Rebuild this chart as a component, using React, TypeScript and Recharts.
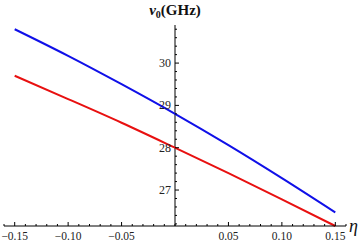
import React from "react"
import { LineChart, Line, XAxis, YAxis, ReferenceLine } from "recharts"

const eta = [-0.15, -0.1, -0.05, 0, 0.05, 0.1, 0.15]
const blueFreq = [30.8, 30.17, 29.5, 28.8, 28.06, 27.28, 26.47]
const redFreq = [29.7, 29.15, 28.59, 28.0, 27.4, 26.78, 26.15]

const xMajor = [-0.15, -0.1, -0.05, 0.05, 0.1, 0.15]
const yMajor = [27, 28, 29, 30]

// minor ticks every 0.01 on x and 0.2 on y
const xTicks = Array.from({ length: 33 }, (_, i) => Math.round((-0.16 + i * 0.01) * 100) / 100)
const yTicks = Array.from({ length: 24 }, (_, i) => Math.round((26.2 + i * 0.2) * 10) / 10)

const data = eta.map((e, i) => ({ eta: e, blue: blueFreq[i], red: redFreq[i] }))

const W = 360
const H = 245
const margin = { top: 25, right: 14, left: 3, bottom: 0 }
const yAxisW = 1
const plotW = W - margin.left - yAxisW - margin.right
const font = "'Liberation Serif', 'Times New Roman', serif"

const isOne = (list: number[], v: number) => list.some((m) => Math.abs(m - v) < 1e-6)

const XTick = (props: any) => {
  const { x, y, payload } = props
  const v = payload.value
  const major = isOne(xMajor, v)
  return (
    <g>
      <line x1={x} x2={x} y1={y} y2={y - (major ? 4 : 2)} stroke="#000" strokeWidth={1} />
      {major && (
        <text x={x} y={y + 14} textAnchor="middle" fontSize={11.5} fontFamily={font} fill="#222">
          {(v < 0 ? "\u2212" : "") + Math.abs(v).toFixed(2)}
        </text>
      )}
    </g>
  )
}

// y axis sits at eta = 0, the middle of the symmetric x domain
const YTick = (props: any) => {
  const { x, y, payload } = props
  const v = payload.value
  const major = isOne(yMajor, v)
  const x0 = x + plotW / 2
  return (
    <g>
      <line x1={x0} x2={x0 + (major ? 4 : 2)} y1={y} y2={y} stroke="#000" strokeWidth={1} />
      {major && (
        <text x={x0 - 4} y={y + 4} textAnchor="end" fontSize={12} fontFamily={font} fill="#222">
          {v}
        </text>
      )}
    </g>
  )
}

const TopLabel = (props: any) => {
  const { viewBox } = props
  return (
    <text x={viewBox.x} y={viewBox.y - 10} textAnchor="middle" fontFamily={font} fontSize={15} fontWeight="bold" fill="#111">
      <tspan fontStyle="italic">ν</tspan>
      <tspan fontSize={10} dy={3}>0</tspan>
      <tspan dy={-3}>(GHz)</tspan>
    </text>
  )
}

const EtaLabel = (props: any) => {
  const { viewBox } = props
  return (
    <text x={viewBox.x + viewBox.width + 3} y={viewBox.y + 6} fontFamily={font} fontSize={18} fontStyle="italic" fill="#111">
      η
    </text>
  )
}

export default function App() {
  return (
    <div style={{ position: "absolute", left: 0, top: 0, background: "#fff" }}>
      <LineChart width={W} height={H} data={data} margin={margin}>
        <XAxis
          dataKey="eta"
          type="number"
          domain={[-0.16, 0.16]}
          ticks={xTicks}
          interval={0}
          height={19}
          tickSize={0}
          tickMargin={0}
          tickLine={false}
          tick={<XTick />}
          axisLine={{ stroke: "#000", strokeWidth: 1 }}
          label={{ content: <EtaLabel /> }}
        />
        <YAxis
          type="number"
          domain={[26.15, 30.9]}
          ticks={yTicks}
          interval={0}
          width={yAxisW}
          tickSize={0}
          tickMargin={0}
          tickLine={false}
          axisLine={false}
          tick={<YTick />}
        />
        <ReferenceLine x={0} stroke="#000" strokeWidth={1} label={{ content: <TopLabel /> }} />
        <Line dataKey="red" type="monotone" stroke="#e81010" strokeWidth={2} dot={false} isAnimationActive={false} />
        <Line dataKey="blue" type="monotone" stroke="#1010e8" strokeWidth={2} dot={false} isAnimationActive={false} />
      </LineChart>
    </div>
  )
}
